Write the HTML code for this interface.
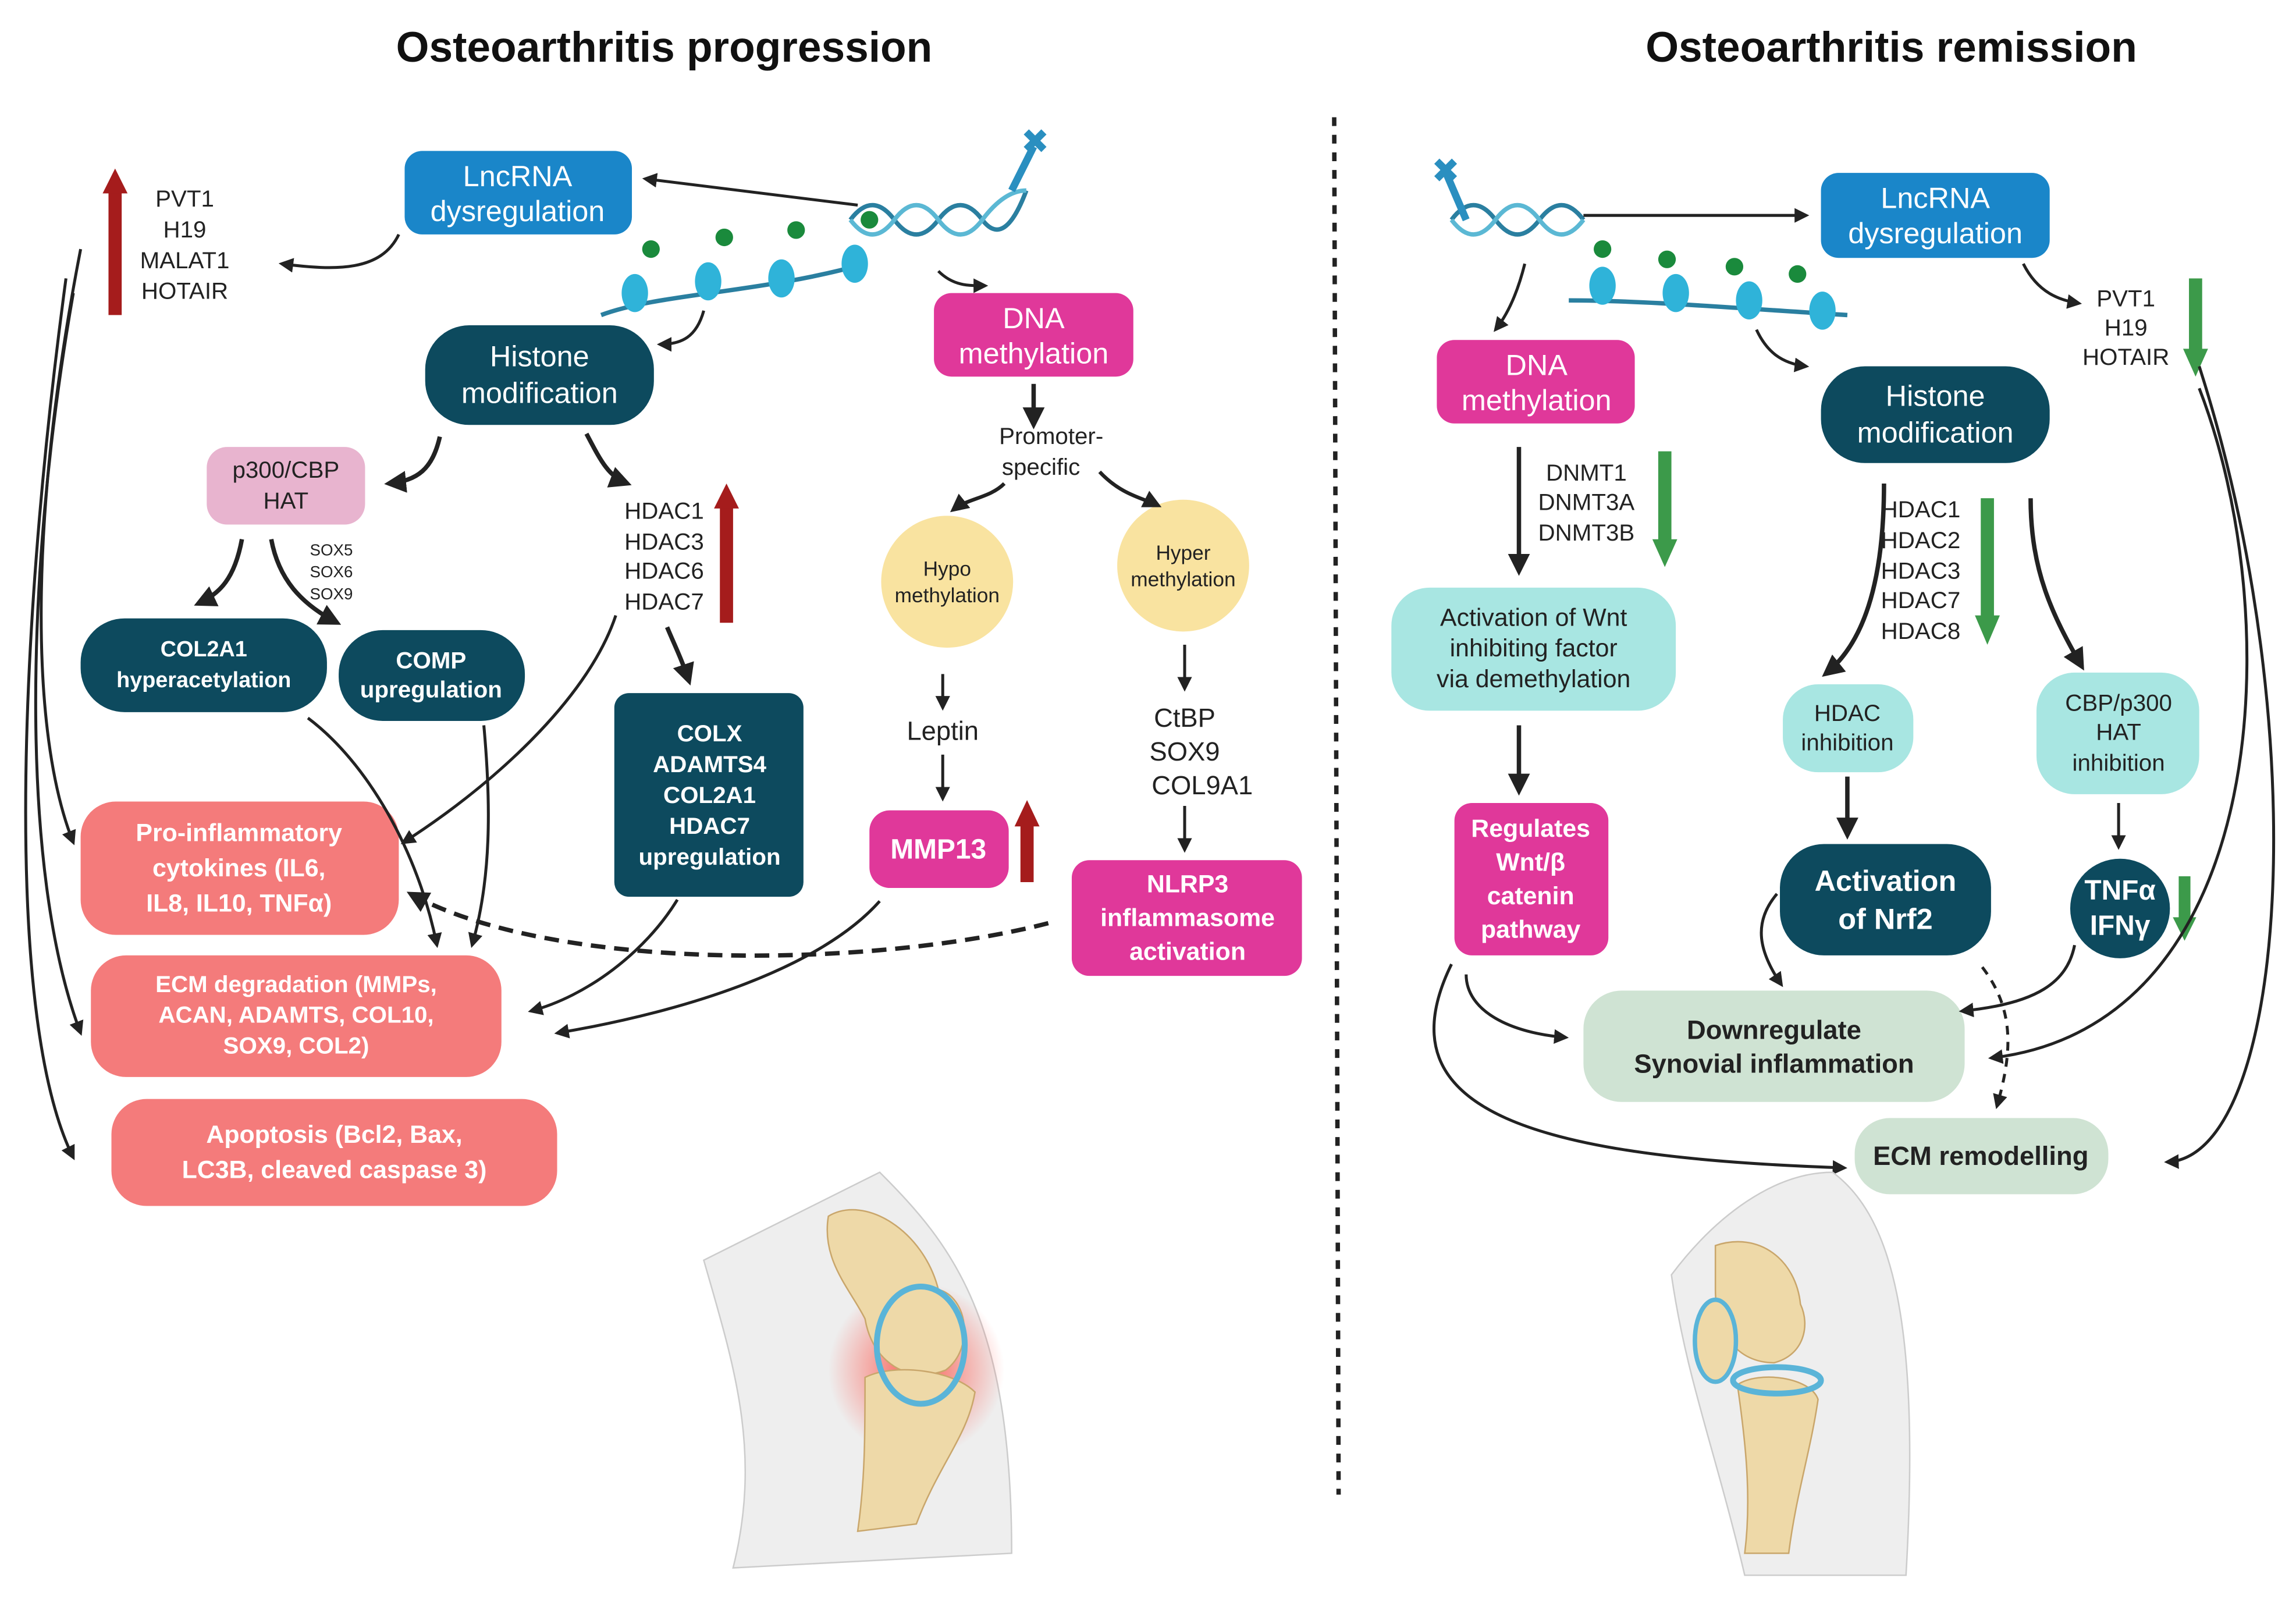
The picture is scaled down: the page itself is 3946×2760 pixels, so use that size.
<!DOCTYPE html>
<html><head><meta charset="utf-8"><style>
html,body{margin:0;padding:0;background:#fff;}
svg{display:block;}
text{font-family:"Liberation Sans",sans-serif;}
</style></head><body>
<svg width="3946" height="2760" viewBox="0 0 1566 1096" preserveAspectRatio="none" xmlns="http://www.w3.org/2000/svg">
<defs>
<marker id="a" viewBox="0 0 10 10" refX="8" refY="5" markerWidth="5" markerHeight="5" orient="auto"><path d="M0,0 L10,5 L0,10 z" fill="#222"/></marker>
<radialGradient id="glow"><stop offset="0" stop-color="#ff3b2f" stop-opacity=".8"/><stop offset="1" stop-color="#ff3b2f" stop-opacity="0"/></radialGradient>
</defs>
<rect width="1566" height="1096" fill="#fff"/>
<text x="453" y="42" font-size="29" font-weight="bold" text-anchor="middle" fill="#111">Osteoarthritis progression</text>
<text x="1290" y="42" font-size="29" font-weight="bold" text-anchor="middle" fill="#111">Osteoarthritis remission</text>
<line x1="910" y1="80" x2="913" y2="1020" stroke="#222" stroke-width="3" stroke-dasharray="6,6"/>

<g stroke="#2a7fa0" stroke-width="3" fill="none">
<path d="M580,150 q15,-20 30,0 t30,0 t30,0 t30,-20"/><path d="M580,150 q15,20 30,0 t30,0 t30,0 t30,-20" stroke="#5bb8d4"/>
<path d="M410,215 C450,200 520,200 590,180"/>
</g>
<g fill="#2fb3d9"><ellipse cx="433" cy="200" rx="9" ry="13"/><ellipse cx="483" cy="192" rx="9" ry="13"/><ellipse cx="533" cy="190" rx="9" ry="13"/><ellipse cx="583" cy="180" rx="9" ry="13"/></g>
<g fill="#1a8a3c"><circle cx="444" cy="170" r="6"/><circle cx="494" cy="162" r="6"/><circle cx="543" cy="157" r="6"/><circle cx="593" cy="150" r="6"/></g>
<path d="M700,90 l12,12 M712,90 l-12,12 M690,130 l15,-30" stroke="#2a8fc0" stroke-width="5"/>

<g stroke="#2a7fa0" stroke-width="3" fill="none">
<path d="M990,150 q15,-20 30,0 t30,0 t30,0"/><path d="M990,150 q15,20 30,0 t30,0 t30,0" stroke="#5bb8d4"/>
<path d="M1070,205 C1120,205 1180,210 1260,215"/>
</g>
<g fill="#2fb3d9"><ellipse cx="1093" cy="195" rx="9" ry="13"/><ellipse cx="1143" cy="200" rx="9" ry="13"/><ellipse cx="1193" cy="205" rx="9" ry="13"/><ellipse cx="1243" cy="212" rx="9" ry="13"/></g>
<g fill="#1a8a3c"><circle cx="1093" cy="170" r="6"/><circle cx="1137" cy="177" r="6"/><circle cx="1183" cy="182" r="6"/><circle cx="1226" cy="187" r="6"/></g>
<path d="M980,110 l12,12 M992,110 l-12,12 M985,115 l15,35" stroke="#2a8fc0" stroke-width="5"/>

<rect x="276" y="103" width="155" height="57" rx="12" fill="#1a86c9"/>
<text x="353" y="127" font-size="20" fill="#fff" text-anchor="middle">LncRNA</text><text x="353" y="151" font-size="20" fill="#fff" text-anchor="middle">dysregulation</text>
<rect x="290" y="222" width="156" height="68" rx="30" fill="#0d4a5e"/>
<text x="368" y="250" font-size="20" fill="#fff" text-anchor="middle">Histone</text><text x="368" y="275" font-size="20" fill="#fff" text-anchor="middle">modification</text>
<rect x="637" y="200" width="136" height="57" rx="12" fill="#e0389a"/>
<text x="705" y="224" font-size="20" fill="#fff" text-anchor="middle">DNA</text><text x="705" y="248" font-size="20" fill="#fff" text-anchor="middle">methylation</text>
<rect x="141" y="305" width="108" height="53" rx="14" fill="#e8b4cf"/>
<text x="195" y="326" font-size="16" fill="#222" text-anchor="middle">p300/CBP</text><text x="195" y="347" font-size="16" fill="#222" text-anchor="middle">HAT</text>
<rect x="55" y="422" width="168" height="64" rx="30" fill="#0d4a5e"/>
<text x="139" y="448" font-size="15" font-weight="bold" fill="#fff" text-anchor="middle">COL2A1</text><text x="139" y="469" font-size="15" font-weight="bold" fill="#fff" text-anchor="middle">hyperacetylation</text>
<rect x="231" y="430" width="127" height="62" rx="30" fill="#0d4a5e"/>
<text x="294" y="456" font-size="16" font-weight="bold" fill="#fff" text-anchor="middle">COMP</text><text x="294" y="476" font-size="16" font-weight="bold" fill="#fff" text-anchor="middle">upregulation</text>
<rect x="419" y="473" width="129" height="139" rx="10" fill="#0d4a5e"/>
<g font-size="16" font-weight="bold" fill="#fff" text-anchor="middle"><text x="484" y="506">COLX</text><text x="484" y="527">ADAMTS4</text><text x="484" y="548">COL2A1</text><text x="484" y="569">HDAC7</text><text x="484" y="590">upregulation</text></g>
<circle cx="646" cy="397" r="45" fill="#f9e3a0"/>
<text x="646" y="393" font-size="14" text-anchor="middle" fill="#222">Hypo</text><text x="646" y="411" font-size="14" text-anchor="middle" fill="#222">methylation</text>
<circle cx="807" cy="386" r="45" fill="#f9e3a0"/>
<text x="807" y="382" font-size="14" text-anchor="middle" fill="#222">Hyper</text><text x="807" y="400" font-size="14" text-anchor="middle" fill="#222">methylation</text>
<rect x="593" y="553" width="95" height="53" rx="14" fill="#e0389a"/>
<text x="640" y="586" font-size="19" font-weight="bold" fill="#fff" text-anchor="middle">MMP13</text>
<rect x="731" y="587" width="157" height="79" rx="12" fill="#e0389a"/>
<g font-size="17" font-weight="bold" fill="#fff" text-anchor="middle"><text x="810" y="609">NLRP3</text><text x="810" y="632">inflammasome</text><text x="810" y="655">activation</text></g>
<rect x="55" y="547" width="217" height="91" rx="24" fill="#f47b7b"/>
<g font-size="17" font-weight="bold" fill="#fff" text-anchor="middle"><text x="163" y="574">Pro-inflammatory</text><text x="163" y="598">cytokines (IL6,</text><text x="163" y="622">IL8, IL10, TNFα)</text></g>
<rect x="62" y="652" width="280" height="83" rx="24" fill="#f47b7b"/>
<g font-size="16" font-weight="bold" fill="#fff" text-anchor="middle"><text x="202" y="677">ECM degradation (MMPs,</text><text x="202" y="698">ACAN, ADAMTS, COL10,</text><text x="202" y="719">SOX9, COL2)</text></g>
<rect x="76" y="750" width="304" height="73" rx="24" fill="#f47b7b"/>
<g font-size="17" font-weight="bold" fill="#fff" text-anchor="middle"><text x="228" y="780">Apoptosis (Bcl2, Bax,</text><text x="228" y="804">LC3B, cleaved caspase 3)</text></g>

<g font-size="16" fill="#222" text-anchor="middle"><text x="126" y="141">PVT1</text><text x="126" y="162">H19</text><text x="126" y="183">MALAT1</text><text x="126" y="204">HOTAIR</text></g>
<rect x="74" y="130" width="9" height="85" fill="#a51c1c"/><path d="M70,132 L78.5,115 L87,132z" fill="#a51c1c"/>
<g font-size="16" fill="#222" text-anchor="middle"><text x="453" y="354">HDAC1</text><text x="453" y="375">HDAC3</text><text x="453" y="395">HDAC6</text><text x="453" y="416">HDAC7</text></g>
<rect x="491" y="345" width="9" height="80" fill="#a51c1c"/><path d="M487,347 L495.5,330 L504,347z" fill="#a51c1c"/>
<rect x="696" y="562" width="9" height="40" fill="#a51c1c"/><path d="M692,564 L700.5,546 L709,564z" fill="#a51c1c"/>
<g font-size="11" fill="#222" text-anchor="middle"><text x="226" y="379">SOX5</text><text x="226" y="394">SOX6</text><text x="226" y="409">SOX9</text></g>
<text x="717" y="303" font-size="16" fill="#222" text-anchor="middle">Promoter-</text><text x="710" y="324" font-size="16" fill="#222" text-anchor="middle">specific</text>
<text x="643" y="505" font-size="18" fill="#222" text-anchor="middle">Leptin</text>
<g font-size="18" fill="#222" text-anchor="middle"><text x="808" y="496">CtBP</text><text x="808" y="519">SOX9</text><text x="820" y="542">COL9A1</text></g>

<g stroke="#222" stroke-width="2" fill="none" marker-end="url(#a)">
<path d="M585,140 L440,122"/>
<path d="M272,160 C260,185 230,185 192,180"/>
<path d="M480,212 C475,230 465,235 450,235"/>
<path d="M640,185 C650,195 660,195 672,195"/>
<path d="M300,298 C295,320 285,328 265,330" stroke-width="3"/>
<path d="M400,296 C410,315 415,325 428,330" stroke-width="3"/>
<path d="M705,262 L705,290" stroke-width="3"/>
<path d="M685,330 C675,340 660,340 650,348" stroke-width="2.5"/>
<path d="M750,322 C765,338 780,340 790,345" stroke-width="2.5"/>
<path d="M165,368 C160,395 150,405 135,412" stroke-width="3"/>
<path d="M185,368 C190,395 205,412 230,425" stroke-width="3"/>
<path d="M455,428 C460,440 465,450 470,465" stroke-width="3"/>
<path d="M643,460 L643,483"/>
<path d="M643,515 L643,545"/>
<path d="M808,440 L808,470"/>
<path d="M808,550 L808,580"/>
<path d="M420,420 C400,480 330,540 275,575"/>
<path d="M210,490 C250,520 285,580 298,645"/>
<path d="M330,495 C335,550 335,600 322,645"/>
<path d="M462,614 C440,650 400,680 362,690"/>
<path d="M600,615 C560,660 470,690 380,705"/>
<path d="M55,170 C20,350 20,500 50,575"/>
<path d="M50,200 C15,400 15,600 55,705"/>
<path d="M45,190 C10,450 5,700 50,790"/>
</g>
<path d="M715,630 C600,660 380,665 280,610" stroke="#222" stroke-width="3" fill="none" stroke-dasharray="10,6" marker-end="url(#a)"/>

<rect x="1242" y="118" width="156" height="58" rx="12" fill="#1a86c9"/>
<text x="1320" y="142" font-size="20" fill="#fff" text-anchor="middle">LncRNA</text><text x="1320" y="166" font-size="20" fill="#fff" text-anchor="middle">dysregulation</text>
<rect x="980" y="232" width="135" height="57" rx="12" fill="#e0389a"/>
<text x="1048" y="256" font-size="20" fill="#fff" text-anchor="middle">DNA</text><text x="1048" y="280" font-size="20" fill="#fff" text-anchor="middle">methylation</text>
<rect x="1242" y="250" width="156" height="66" rx="30" fill="#0d4a5e"/>
<text x="1320" y="277" font-size="20" fill="#fff" text-anchor="middle">Histone</text><text x="1320" y="302" font-size="20" fill="#fff" text-anchor="middle">modification</text>
<rect x="949" y="401" width="194" height="84" rx="26" fill="#a8e6e2"/>
<g font-size="17" fill="#222" text-anchor="middle"><text x="1046" y="427">Activation of Wnt</text><text x="1046" y="448">inhibiting factor</text><text x="1046" y="469">via demethylation</text></g>
<rect x="1216" y="467" width="89" height="60" rx="24" fill="#a8e6e2"/>
<text x="1260" y="492" font-size="16" fill="#222" text-anchor="middle">HDAC</text><text x="1260" y="512" font-size="16" fill="#222" text-anchor="middle">inhibition</text>
<rect x="1389" y="459" width="111" height="83" rx="26" fill="#a8e6e2"/>
<g font-size="16" fill="#222" text-anchor="middle"><text x="1445" y="485">CBP/p300</text><text x="1445" y="505">HAT</text><text x="1445" y="526">inhibition</text></g>
<rect x="992" y="548" width="105" height="104" rx="12" fill="#e0389a"/>
<g font-size="17" font-weight="bold" fill="#fff" text-anchor="middle"><text x="1044" y="571">Regulates</text><text x="1044" y="594">Wnt/β</text><text x="1044" y="617">catenin</text><text x="1044" y="640">pathway</text></g>
<rect x="1214" y="576" width="144" height="76" rx="30" fill="#0d4a5e"/>
<text x="1286" y="608" font-size="20" font-weight="bold" fill="#fff" text-anchor="middle">Activation</text><text x="1286" y="634" font-size="20" font-weight="bold" fill="#fff" text-anchor="middle">of Nrf2</text>
<circle cx="1446" cy="620" r="34" fill="#0d4a5e"/>
<text x="1446" y="614" font-size="19" font-weight="bold" fill="#fff" text-anchor="middle">TNFα</text><text x="1446" y="638" font-size="19" font-weight="bold" fill="#fff" text-anchor="middle">IFNγ</text>
<rect x="1080" y="676" width="260" height="76" rx="26" fill="#cfe3d3"/>
<text x="1210" y="709" font-size="18" font-weight="bold" fill="#222" text-anchor="middle">Downregulate</text><text x="1210" y="732" font-size="18" font-weight="bold" fill="#222" text-anchor="middle">Synovial inflammation</text>
<rect x="1265" y="763" width="173" height="52" rx="24" fill="#cfe3d3"/>
<text x="1351" y="795" font-size="18" font-weight="bold" fill="#222" text-anchor="middle">ECM remodelling</text>

<g font-size="16" fill="#222" text-anchor="middle"><text x="1450" y="209">PVT1</text><text x="1450" y="229">H19</text><text x="1450" y="249">HOTAIR</text></g>
<rect x="1493" y="190" width="9" height="50" fill="#3c9a4a"/><path d="M1489,238 L1497.5,257 L1506,238z" fill="#3c9a4a"/>
<g font-size="16" fill="#222" text-anchor="middle"><text x="1082" y="328">DNMT1</text><text x="1082" y="348">DNMT3A</text><text x="1082" y="369">DNMT3B</text></g>
<rect x="1131" y="308" width="9" height="62" fill="#3c9a4a"/><path d="M1127,368 L1135.5,387 L1144,368z" fill="#3c9a4a"/>
<g font-size="16" fill="#222" text-anchor="middle"><text x="1310" y="353">HDAC1</text><text x="1310" y="374">HDAC2</text><text x="1310" y="395">HDAC3</text><text x="1310" y="415">HDAC7</text><text x="1310" y="436">HDAC8</text></g>
<rect x="1351" y="340" width="9" height="82" fill="#3c9a4a"/><path d="M1347,420 L1355.5,440 L1364,420z" fill="#3c9a4a"/>
<rect x="1486" y="598" width="8" height="30" fill="#3c9a4a"/><path d="M1482,626 L1490,642 L1498,626z" fill="#3c9a4a"/>

<g stroke="#222" stroke-width="2" fill="none" marker-end="url(#a)">
<path d="M1080,147 L1232,147"/>
<path d="M1040,180 C1035,200 1028,215 1020,225"/>
<path d="M1198,225 C1205,240 1215,248 1232,250"/>
<path d="M1380,180 C1390,200 1405,205 1418,207"/>
<path d="M1036,305 L1036,390" stroke-width="3"/>
<path d="M1285,330 C1285,400 1270,440 1245,460" stroke-width="3"/>
<path d="M1385,340 C1385,390 1400,420 1420,455" stroke-width="3"/>
<path d="M1036,495 L1036,540" stroke-width="3"/>
<path d="M1260,530 L1260,570" stroke-width="3"/>
<path d="M1445,548 L1445,578"/>
<path d="M1000,665 C1000,690 1030,705 1068,708"/>
<path d="M990,658 C940,760 1050,790 1258,797"/>
<path d="M1212,610 C1195,630 1200,650 1215,672"/>
<path d="M1415,645 C1410,670 1390,685 1338,690"/>
<path d="M1500,265 C1560,420 1550,700 1358,722"/>
<path d="M1500,250 C1580,500 1560,790 1478,793"/>
</g>
<path d="M1352,660 C1375,690 1372,720 1362,755" stroke="#222" stroke-width="2" fill="none" stroke-dasharray="6,5" marker-end="url(#a)"/>

<g>
<path d="M480,860 L600,800 C650,850 690,900 690,1060 L500,1070 C520,990 500,930 480,860z" fill="#eeeeee" stroke="#ccc"/>
<circle cx="625" cy="935" r="60" fill="url(#glow)"/>
<path d="M565,830 C590,815 630,840 640,880 C660,885 665,920 645,935 C620,945 595,930 590,900 C580,880 560,860 565,830z" fill="#eed9a8" stroke="#c9a66b"/>
<path d="M590,940 C610,930 650,935 665,950 C660,980 640,1000 625,1040 L585,1045 C590,1010 590,980 590,940z" fill="#eed9a8" stroke="#c9a66b"/>
<ellipse cx="628" cy="918" rx="30" ry="40" fill="none" stroke="#5ab4d8" stroke-width="4"/>
<path d="M1140,870 C1170,830 1210,800 1250,800 C1290,830 1310,900 1300,1075 L1190,1075 C1170,990 1150,940 1140,870z" fill="#eeeeee" stroke="#ccc"/>
<path d="M1170,850 C1200,840 1225,860 1228,890 C1235,905 1230,925 1210,930 C1185,930 1170,910 1170,880z" fill="#eed9a8" stroke="#c9a66b"/>
<path d="M1185,945 C1200,935 1235,940 1240,955 C1235,990 1225,1020 1220,1060 L1190,1060 C1195,1020 1190,980 1185,945z" fill="#eed9a8" stroke="#c9a66b"/>
<ellipse cx="1170" cy="915" rx="14" ry="28" fill="#eed9a8" stroke="#5ab4d8" stroke-width="3"/>
<ellipse cx="1212" cy="942" rx="30" ry="9" fill="none" stroke="#5ab4d8" stroke-width="4"/>
</g>
</svg>
</body></html>
